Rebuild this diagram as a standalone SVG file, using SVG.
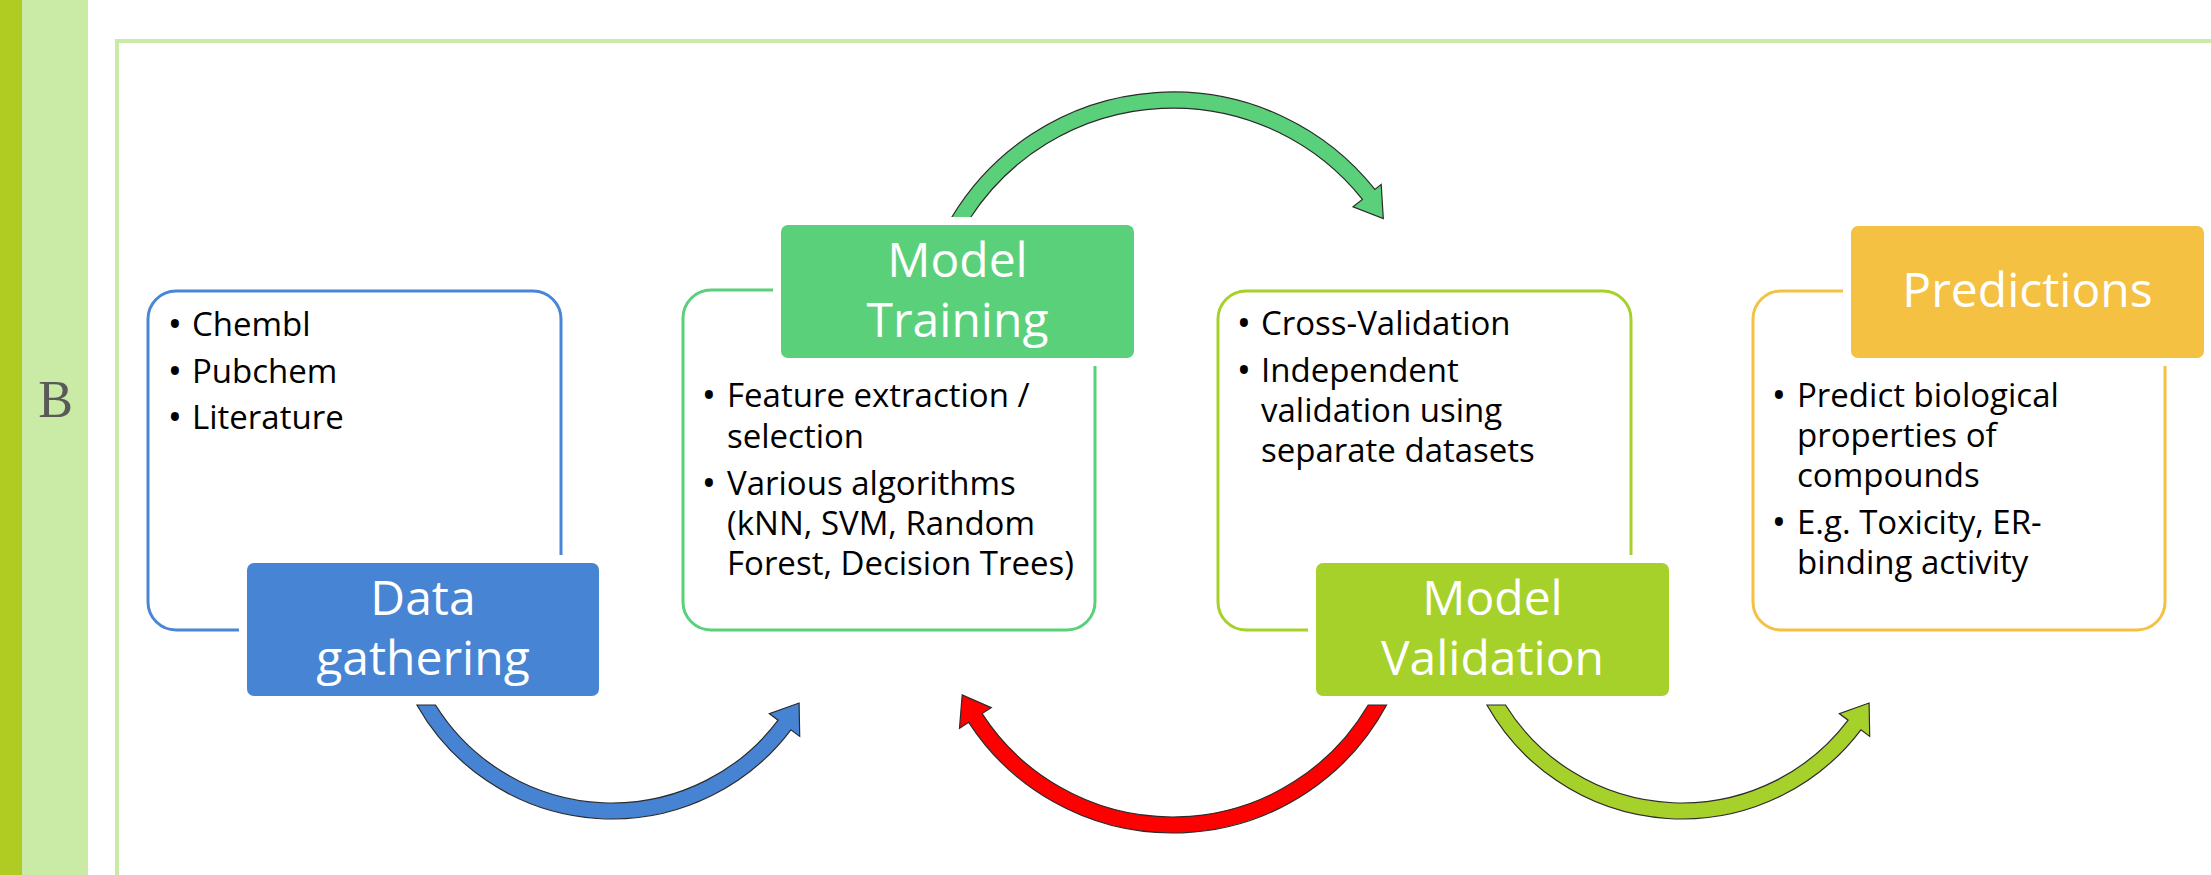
<svg xmlns="http://www.w3.org/2000/svg" width="2211" height="875" viewBox="0 0 2211 875">
<style>
.cont{fill:#fff;stroke-width:3}
.lab{stroke:#fff;stroke-width:8}
.ttl{font-family:"Open Sans","Noto Sans",sans-serif;font-size:48px;fill:#fff;text-anchor:middle}
.txt{font-family:"Open Sans","Noto Sans",sans-serif;font-size:33px;fill:#000}
.bul{font-family:"Open Sans","Noto Sans",sans-serif;font-size:38px;fill:#000;text-anchor:middle}
.arr{stroke:#2b2b2b;stroke-width:1.2;stroke-linejoin:miter}
</style>
<rect width="2211" height="875" fill="#fff"/>
<g id="sidebar">
<rect x="0" y="0" width="22" height="875" fill="#B0CC22"/>
<rect x="22" y="0" width="66" height="875" fill="#C9EBA5"/>
<text x="55.5" y="417" font-family="Liberation Serif, serif" font-size="52" fill="#595959" text-anchor="middle">B</text>
</g>
<path id="frame" d="M117 875 V41 H2211" fill="none" stroke="#C9EBA5" stroke-width="4"/>
<g id="connectors">
<path class="arr" fill="#5BD07B" d="M951.3,218 A258 258 0 0 1 1374.9,189.4 L1381.2,184.4 L1383.3,218.6 L1353,206.8 L1362.4,199.4 A242 242 0 0 0 970.2,218 Z"/>
<path class="arr" fill="#4783D3" d="M416.9,705 A224 224 0 0 0 790.9,729.8 L799.7,736.4 L799.1,703 L769.3,713.6 L778.1,720.2 A208 208 0 0 1 435.5,705 Z"/>
<path class="arr" fill="#FF0000" d="M1386.6,705 A243 243 0 0 1 968.7,722.3 L959.5,728.3 L962.2,694.9 L991.3,707.6 L982.1,713.6 A227 227 0 0 0 1368.2,705 Z"/>
<path class="arr" fill="#A6D12B" transform="translate(1070,0)" d="M416.9,705 A224 224 0 0 0 790.9,729.8 L799.7,736.4 L799.1,703 L769.3,713.6 L778.1,720.2 A208 208 0 0 1 435.5,705 Z"/>
</g>
<g id="data-gathering">
<rect class="cont" x="148" y="291" width="413" height="339" rx="28" stroke="#4A86D6"/>
<text class="bul" x="175" y="338">•</text><text class="txt" x="192" y="336">Chembl</text>
<text class="bul" x="175" y="385">•</text><text class="txt" x="192" y="383">Pubchem</text>
<text class="bul" x="175" y="431">•</text><text class="txt" x="192" y="429">Literature</text>
<rect class="lab" x="243" y="559" width="360" height="141" rx="11" fill="#4784D3"/>
<text class="ttl" x="423" y="615">Data</text>
<text class="ttl" x="423" y="675">gathering</text>
</g>
<g id="model-training">
<rect class="cont" x="683" y="290" width="412" height="340" rx="28" stroke="#5BD07B"/>
<text class="bul" x="709" y="409">•</text><text class="txt" x="727" y="407">Feature extraction /</text>
<text class="txt" x="727" y="448">selection</text>
<text class="bul" x="709" y="497">•</text><text class="txt" x="727" y="495">Various algorithms</text>
<text class="txt" x="727" y="535">(kNN, SVM, Random</text>
<text class="txt" x="727" y="575">Forest, Decision Trees)</text>
<rect class="lab" x="777" y="221" width="361" height="141" rx="11" fill="#5BD07B"/>
<text class="ttl" x="957.5" y="277">Model</text>
<text class="ttl" x="957.5" y="337">Training</text>
</g>
<g id="model-validation">
<rect class="cont" x="1218" y="291" width="413" height="339" rx="28" stroke="#A6D12B"/>
<text class="bul" x="1244" y="337">•</text><text class="txt" x="1261" y="335">Cross-Validation</text>
<text class="bul" x="1244" y="384">•</text><text class="txt" x="1261" y="382">Independent</text>
<text class="txt" x="1261" y="422">validation using</text>
<text class="txt" x="1261" y="462">separate datasets</text>
<rect class="lab" x="1312" y="559" width="361" height="141" rx="11" fill="#A6D12B"/>
<text class="ttl" x="1492.5" y="615">Model</text>
<text class="ttl" x="1492.5" y="675">Validation</text>
</g>
<g id="predictions">
<rect class="cont" x="1753" y="291" width="412" height="339" rx="28" stroke="#F4C143"/>
<text class="bul" x="1779" y="409">•</text><text class="txt" x="1797" y="407">Predict biological</text>
<text class="txt" x="1797" y="447">properties of</text>
<text class="txt" x="1797" y="487">compounds</text>
<text class="bul" x="1779" y="536">•</text><text class="txt" x="1797" y="534">E.g. Toxicity, ER-</text>
<text class="txt" x="1797" y="574">binding activity</text>
<rect class="lab" x="1847" y="222" width="361" height="140" rx="11" fill="#F4C143"/>
<text class="ttl" x="2027.5" y="307">Predictions</text>
</g>
</svg>
